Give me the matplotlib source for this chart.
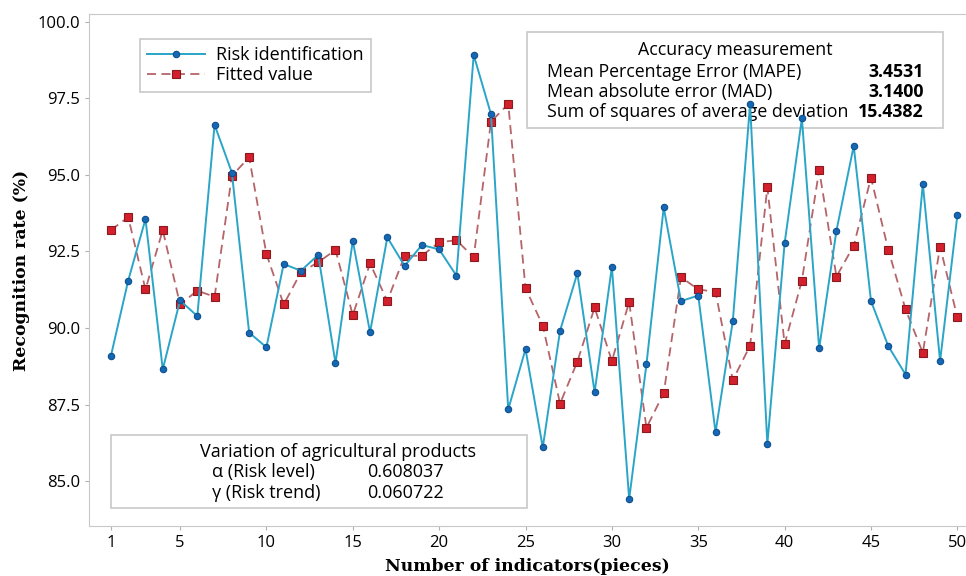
import matplotlib
matplotlib.use("Agg")
import matplotlib.pyplot as plt
from matplotlib.patches import Rectangle

W, H = 966, 576

indicators = list(range(1, 51))

risk_identification = [
    89.09, 91.55, 93.56, 88.65, 90.90, 90.39, 96.64, 95.08, 89.85, 89.37,
    92.09, 91.87, 92.39, 88.85, 92.85, 89.86, 92.96, 92.03, 92.71, 92.57,
    91.71, 98.92, 96.99, 87.34, 89.31, 86.10, 89.91, 91.79, 87.90, 92.00,
    84.41, 88.81, 93.94, 90.88, 91.06, 86.59, 90.22, 97.31, 86.21, 92.77,
    96.85, 89.33, 93.18, 95.95, 90.88, 89.41, 88.48, 94.71, 88.92, 93.68,
]

fitted_value = [
    93.20, 93.62, 91.26, 93.20, 90.77, 91.22, 91.02, 94.97, 95.58, 92.42,
    90.77, 91.82, 92.15, 92.55, 90.42, 92.11, 90.88, 92.36, 92.36, 92.80,
    92.87, 92.31, 96.74, 97.32, 91.30, 90.08, 87.53, 88.90, 90.67, 88.92,
    90.85, 86.74, 87.87, 91.66, 91.26, 91.18, 88.30, 89.42, 94.60, 89.47,
    91.55, 95.16, 91.68, 92.69, 94.91, 92.56, 90.61, 89.19, 92.66, 90.35,
]

x_ticks = [1, 5, 10, 15, 20, 25, 30, 35, 40, 45, 50]
y_ticks = [85.0, 87.5, 90.0, 92.5, 95.0, 97.5, 100.0]

accuracy_names = ["Mean Percentage Error (MAPE)", "Mean absolute error (MAD)",
                  "Sum of squares of average deviation"]
accuracy_values = ["3.4531", "3.1400", "15.4382"]

param_names = ["\u03b1 (Risk level)", "\u03b3 (Risk trend)"]
param_values = ["0.608037", "0.060722"]

sans = ["Open Sans", "DejaVu Sans"]

fig = plt.figure(figsize=(W / 100, H / 100), dpi=100)
ax = fig.add_axes([89 / W, 1 - 526 / H, 1 - 89 / W, (526 - 14) / H])

ax.plot(indicators, risk_identification, color="#2aa5c8", lw=1.4,
        marker="o", ms=4.6, mfc="#1668b4", mec="#0d4f8f", mew=0.8,
        label="Risk identification", zorder=4)
ax.plot(indicators, fitted_value, color="#b5646a", lw=1.3, ls=(0, (5, 3)),
        marker="s", ms=5.6, mfc="#d4202c", mec="#8a1a1e", mew=0.8,
        label="Fitted value", zorder=3)

ax.set_xlim(-0.27, 50.5)
ax.set_ylim(83.53, 100.26)
ax.set_xticks(x_ticks)
ax.set_yticks(y_ticks)
ax.set_yticklabels([f"{v:.1f}" for v in y_ticks])

for s in ["left", "bottom", "top"]:
    ax.spines[s].set_color("#c8c8c8")
ax.spines["right"].set_visible(False)
ax.tick_params(colors="#b0b0b0", length=3, width=0.8, labelcolor="black",
               labelsize=12)
for lab in ax.get_xticklabels() + ax.get_yticklabels():
    lab.set_family(sans)

ax.set_xlabel("Number of indicators(pieces)", family="DejaVu Serif",
              fontweight="bold", fontsize=12.4, labelpad=5)
ax.set_ylabel("Recognition rate (%)", family="DejaVu Serif",
              fontweight="bold", fontsize=12.4, labelpad=5)

leg = ax.legend(loc="upper left", bbox_to_anchor=((140 - 89) / (W - 89), (526 - 39) / 512),
                borderaxespad=0, frameon=True, fancybox=False, edgecolor="#c8c8c8",
                prop={"family": sans, "size": 13}, handlelength=3.2,
                borderpad=0.4, labelspacing=0.12, handletextpad=0.6,
                framealpha=1)
leg.get_frame().set_linewidth(1.2)
leg.set_zorder(6)


def fx(px):
    return px / W


def fy(py):
    return 1 - py / H


# accuracy box (drawn under the lines)
ax.add_patch(Rectangle((fx(527), fy(128)), fx(943) - fx(527), fy(32) - fy(128),
                       transform=fig.transFigure, fill=True, fc="white",
                       ec="#c8c8c8", lw=1.2, zorder=1, clip_on=False))
ax.text(fx(735), fy(50), "Accuracy measurement", ha="center", va="center",
        transform=fig.transFigure, family=sans, fontsize=12.8, zorder=2)
for i, (n, v) in enumerate(zip(accuracy_names, accuracy_values)):
    ax.text(fx(547), fy(72 + 20 * i), n, ha="left", va="center",
            transform=fig.transFigure, family=sans, fontsize=12.8, zorder=2)
    ax.text(fx(924), fy(72 + 20 * i), v, ha="right", va="center",
            transform=fig.transFigure, family=sans, fontsize=12.8,
            fontweight="bold", zorder=2)

# parameter box
ax.add_patch(Rectangle((fx(111), fy(508)), fx(527) - fx(111), fy(435) - fy(508),
                       transform=fig.transFigure, fill=True, fc="white",
                       ec="#c8c8c8", lw=1.2, zorder=1, clip_on=False))
ax.text(fx(338), fy(452), "Variation of agricultural products", ha="center",
        va="center", transform=fig.transFigure, family=sans, fontsize=13, zorder=2)
for i, (n, v) in enumerate(zip(param_names, param_values)):
    ax.text(fx(212), fy(472 + 21 * i), n, ha="left", va="center",
            transform=fig.transFigure, family=sans, fontsize=13, zorder=2)
    ax.text(fx(367), fy(472 + 21 * i), v, ha="left", va="center",
            transform=fig.transFigure, family=sans, fontsize=13, zorder=2)

fig.savefig("out.png", dpi=100)
